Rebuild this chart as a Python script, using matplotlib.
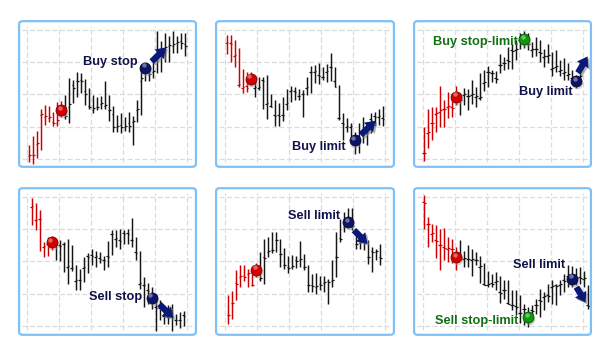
import matplotlib
matplotlib.use("Agg")
import matplotlib.pyplot as plt
import matplotlib.patheffects as pe
from matplotlib.patches import FancyBboxPatch

# ---- data: one OHLC series per panel (price units, gridlines every 10) ----
hi1 = [4.2, 7.0, 8.6, 15.3, 16.7, 16.4, 14.6, 17.7, 18.0, 19.8, 25.0, 24.5, 27.0, 26.7, 24.7, 21.9, 19.8, 19.3, 19.5, 24.1,
       19.8, 16.4, 13.6, 14.1, 13.1, 14.6, 13.3, 18.2, 29.1, 29.0, 28.0, 31.5, 39.8, 36.5, 39.0, 38.0, 39.8, 38.0, 39.0, 39.0]
lo1 = [-0.9, -1.5, 0.1, 2.7, 10.5, 11.5, 10.2, 10.2, 13.0, 12.2, 11.0, 17.2, 19.1, 20.5, 16.7, 15.6, 14.3, 15.1, 15.6, 15.6,
       11.8, 8.4, 8.4, 7.9, 8.6, 8.4, 4.2, 11.5, 13.6, 24.0, 24.0, 25.0, 26.5, 27.0, 30.0, 30.0, 33.0, 33.0, 34.0, 32.0]
op1 = [0.8, 1.0, 4.5, 13.5, 13.0, 12.5, 11.5, 11.0, 15.0, 13.0, 16.0, 23.0, 24.0, 24.5, 21.0, 16.5, 15.0, 16.0, 17.0, 16.5,
       15.0, 14.0, 10.0, 10.5, 10.0, 11.0, 11.5, 15.0, 24.0, 27.0, 26.0, 27.0, 32.0, 33.0, 34.5, 35.0, 35.0, 36.0, 36.5, 35.5]
cl1 = [1.0, 1.2, 5.0, 14.0, 13.2, 13.0, 11.0, 12.0, 15.2, 13.2, 17.0, 22.0, 24.2, 24.0, 20.0, 16.0, 15.8, 16.2, 17.2, 16.8,
       15.2, 10.0, 10.2, 10.0, 10.2, 10.3, 11.7, 15.6, 25.0, 27.2, 26.2, 27.2, 32.2, 33.2, 34.8, 35.2, 35.5, 36.2, 36.0, 35.0]

hi2 = [38.4, 38.6, 37.0, 34.5, 27.9, 27.0, 27.0, 25.7, 25.5, 25.5, 26.0, 20.0, 18.2, 17.2, 19.3, 21.6, 22.6, 22.2, 21.6, 21.3,
       25.3, 28.8, 29.1, 29.6, 28.6, 29.3, 33.0, 28.6, 22.9, 14.1, 12.5, 11.2, 8.4, 11.0, 12.9, 11.5, 14.1, 14.6, 15.6, 16.4]
lo2 = [32.7, 30.2, 28.6, 22.2, 20.5, 20.8, 23.0, 19.3, 21.3, 15.6, 12.2, 16.0, 10.2, 10.2, 11.8, 15.1, 17.7, 18.2, 18.2, 13.0,
       19.8, 20.5, 23.6, 23.2, 24.5, 23.9, 24.1, 22.2, 12.0, 5.8, 8.4, 6.6, 1.5, 1.9, 5.0, 4.2, 7.9, 10.2, 10.5, 10.2]
op2 = [36.0, 36.0, 32.0, 23.0, 22.0, 22.5, 25.0, 22.0, 22.0, 24.5, 17.0, 16.5, 13.6, 13.5, 13.5, 17.0, 21.0, 21.0, 19.5, 20.0,
       22.0, 27.0, 27.0, 26.0, 25.5, 27.0, 28.6, 24.0, 12.5, 11.0, 10.0, 10.0, 6.0, 5.8, 7.9, 8.0, 12.2, 13.3, 13.0, 12.5]
cl2 = [36.2, 35.8, 32.2, 23.2, 22.2, 22.0, 24.8, 22.2, 22.2, 24.0, 17.2, 16.2, 13.4, 13.2, 13.6, 17.2, 21.2, 20.8, 19.6, 20.2,
       22.2, 26.8, 27.2, 25.6, 25.3, 27.2, 28.4, 22.4, 12.6, 10.8, 10.2, 10.2, 6.2, 6.0, 8.1, 8.2, 12.0, 13.1, 13.2, 12.3]

hi3 = [10.0, 15.3, 16.0, 16.0, 22.6, 18.2, 20.8, 20.3, 22.6, 20.3, 21.9, 21.6, 24.5, 22.2, 26.5, 27.6, 28.8, 27.6, 27.4, 32.7,
       31.7, 34.8, 35.8, 36.9, 39.0, 39.8, 39.0, 36.4, 37.9, 37.0, 34.0, 35.8, 33.3, 33.8, 30.7, 31.2, 29.8, 27.6, 26.0, 27.6]
lo3 = [-0.6, 3.2, 5.8, 8.4, 10.0, 9.7, 12.5, 12.9, 16.7, 13.6, 16.7, 15.1, 17.0, 16.2, 18.4, 21.1, 22.4, 23.9, 23.6, 26.7,
       27.6, 28.0, 28.0, 30.7, 34.0, 34.3, 33.8, 31.7, 31.9, 30.2, 28.6, 29.8, 25.7, 27.0, 25.7, 24.5, 24.5, 23.4, 21.9, 23.4]
op3 = [1.7, 8.0, 11.0, 14.0, 14.5, 15.4, 16.2, 16.0, 19.0, 18.4, 19.8, 19.6, 19.8, 19.2, 19.0, 23.6, 27.0, 26.5, 25.0, 29.0,
       29.6, 30.7, 33.8, 33.9, 37.0, 37.2, 35.8, 33.9, 34.2, 33.2, 31.5, 32.0, 28.0, 28.5, 27.2, 26.5, 26.0, 25.0, 24.0, 25.3]
cl3 = [1.9, 8.4, 11.2, 14.2, 15.0, 15.6, 16.4, 15.8, 19.2, 18.2, 20.0, 19.4, 20.0, 19.4, 19.2, 23.8, 26.8, 26.7, 24.8, 29.2,
       29.8, 30.5, 33.6, 34.0, 37.2, 37.0, 35.6, 34.1, 34.0, 33.0, 31.8, 32.3, 28.2, 28.8, 27.5, 26.8, 26.2, 25.2, 24.2, 25.6]

hi4 = [39.8, 38.1, 35.9, 26.0, 27.6, 27.8, 26.0, 26.7, 26.0, 27.0, 25.0, 19.0, 17.7, 21.3, 22.6, 23.9, 23.2, 22.9, 21.6, 26.3,
       29.8, 29.8, 30.2, 29.8, 30.2, 33.6, 27.6, 23.2, 15.1, 13.3, 12.0, 9.9, 7.9, 5.3, 6.3, 6.8, 3.7, 4.2, 4.6]
lo4 = [31.2, 29.6, 23.2, 21.3, 21.6, 23.4, 20.3, 20.1, 16.7, 13.0, 17.0, 11.2, 11.0, 13.6, 16.4, 18.8, 18.4, 19.5, 17.4, 18.4,
       21.9, 24.5, 23.9, 25.5, 25.5, 24.5, 20.3, 11.5, 5.8, 6.8, 5.2, -1.5, 1.7, 0.6, 0.6, -1.5, 0.1, -0.6, -0.2]
op4 = [37.0, 33.0, 33.3, 24.5, 25.5, 25.0, 25.5, 25.0, 25.5, 18.4, 18.0, 14.0, 14.3, 18.0, 21.6, 21.9, 21.4, 20.9, 20.3, 21.6,
       28.4, 27.0, 26.5, 28.8, 28.8, 26.5, 22.9, 13.0, 12.5, 11.0, 8.4, 5.8, 5.6, 2.9, 2.7, 2.9, 1.9, 1.7, 3.2]
cl4 = [37.2, 32.8, 33.1, 24.7, 25.3, 25.2, 25.3, 24.8, 25.3, 18.6, 17.8, 14.2, 14.1, 18.2, 21.4, 21.7, 21.6, 20.7, 20.5, 21.4,
       28.6, 27.2, 26.3, 28.6, 28.6, 26.7, 22.7, 13.2, 12.7, 10.8, 8.6, 5.6, 5.8, 3.1, 2.5, 3.1, 1.7, 1.9, 3.0]

hi5 = [9.4, 10.8, 17.2, 18.8, 19.0, 17.7, 17.4, 19.5, 22.9, 27.0, 27.6, 29.0, 29.0, 27.0, 24.2, 21.6, 21.9, 21.6, 26.3, 22.2,
       19.0, 16.0, 16.4, 15.3, 15.6, 14.6, 20.3, 29.0, 33.3, 35.3, 36.7, 36.7, 28.8, 28.1, 28.6, 26.5, 24.5, 23.9, 25.3]
lo5 = [0.6, 2.2, 8.1, 12.0, 14.0, 12.0, 12.2, 15.0, 13.9, 13.0, 21.3, 22.6, 22.9, 18.4, 17.7, 16.4, 17.7, 18.0, 18.4, 17.2,
       10.5, 10.5, 10.0, 11.0, 10.5, 6.6, 12.0, 15.1, 26.0, 29.1, 30.7, 29.6, 23.9, 23.9, 23.6, 19.1, 16.7, 20.5, 18.8]
op5 = [3.2, 7.0, 13.3, 15.1, 15.3, 16.2, 12.8, 17.2, 14.6, 21.3, 22.9, 23.6, 26.5, 22.4, 18.8, 18.2, 18.4, 20.3, 20.5, 18.4,
       12.5, 12.5, 12.0, 13.0, 13.3, 13.9, 13.9, 21.3, 27.3, 30.7, 31.7, 30.7, 25.5, 25.7, 26.0, 21.3, 23.2, 22.9, 21.3]
cl5 = [3.4, 7.2, 13.1, 15.3, 15.1, 16.4, 12.6, 17.4, 14.8, 21.1, 23.1, 23.4, 26.7, 22.2, 19.0, 18.0, 18.6, 20.1, 20.7, 18.2,
       12.7, 12.3, 12.2, 12.8, 13.5, 13.7, 14.1, 21.5, 27.1, 30.9, 31.5, 30.9, 25.3, 25.9, 25.8, 21.5, 23.0, 23.1, 21.1]

hi6 = [40.5, 33.8, 31.7, 31.2, 30.2, 30.5, 27.6, 27.0, 24.5, 26.7, 23.2, 25.0, 23.9, 22.9, 21.6, 19.5, 17.0, 16.2, 16.7, 15.3,
       14.1, 14.1, 11.2, 11.0, 9.4, 6.8, 5.8, 6.3, 8.4, 11.5, 10.5, 13.0, 14.3, 13.0, 14.1, 16.2, 18.8, 18.5, 18.0, 18.2, 17.0, 12.5]
lo6 = [30.2, 24.5, 26.0, 21.1, 17.4, 20.5, 19.8, 19.5, 17.4, 20.5, 18.2, 18.4, 15.6, 18.8, 13.3, 12.5, 12.0, 12.0, 11.2, 7.0,
       8.4, 6.6, 4.8, 3.2, 0.8, 0.1, -0.4, 2.7, 3.7, 2.7, 4.8, 7.4, 6.8, 6.3, 9.4, 10.5, 12.0, 12.0, 12.5, 13.0, 12.0, 5.3]
op6 = [38.4, 31.7, 28.6, 26.5, 25.0, 24.5, 23.9, 23.9, 21.3, 21.3, 20.8, 20.8, 20.5, 20.5, 18.4, 13.0, 12.8, 13.3, 13.6, 10.5,
       11.0, 7.0, 6.3, 6.0, 3.9, 5.3, 2.7, 4.8, 6.3, 7.9, 8.9, 9.4, 12.0, 12.5, 12.8, 14.1, 15.3, 14.6, 14.6, 15.1, 14.6, 6.3]
cl6 = [38.2, 31.5, 28.8, 26.3, 25.2, 24.3, 24.1, 23.7, 21.5, 21.1, 21.0, 20.6, 20.7, 20.3, 18.6, 12.8, 13.0, 13.1, 13.8, 10.3,
       11.2, 6.8, 6.5, 5.8, 4.1, 5.1, 2.9, 4.6, 6.5, 7.7, 9.1, 9.2, 12.2, 12.3, 13.0, 13.9, 15.5, 14.4, 14.8, 14.9, 14.8, 6.1]

n_red = [9, 7, 9, 6, 8, 9]

# markers: (bar, price, kind)
dots = [
    [(8, 15.1, "red"), (29, 28.3, "navy")],
    [(6, 24.9, "red"), (32, 5.8, "navy")],
    [(8, 19.3, "red"), (25, 37.2, "green"), (38, 24.2, "navy")],
    [(5, 26.0, "red"), (30, 8.7, "navy")],
    [(7, 17.4, "red"), (30, 32.2, "navy")],
    [(8, 21.3, "red"), (26, 2.7, "green"), (37, 14.6, "navy")],
]
labels = [
    [("Buy stop", 27.2, 30.1, "navy")],
    [("Buy limit", 29.75, 3.5, "navy")],
    [("Buy stop-limit", 23.5, 36.2, "green"), ("Buy limit", 37.25, 20.6, "navy")],
    [("Sell stop", 27.5, 8.9, "navy")],
    [("Sell limit", 27.9, 34.1, "navy")],
    [("Sell limit", 35.2, 18.8, "navy"), ("Sell stop-limit", 23.5, 1.4, "green")],
]
arrows = [
    ((30.6, 30.2), (34.2, 34.6)),
    ((33.5, 7.4), (37.2, 11.8)),
    ((38.5, 26.7), (40.9, 31.8)),
    ((31.9, 6.7), (35.4, 2.4)),
    ((31.4, 29.7), (34.8, 25.5)),
    ((38.1, 12.0), (40.4, 7.2)),
]
series = [(hi1, lo1, op1, cl1), (hi2, lo2, op2, cl2), (hi3, lo3, op3, cl3),
          (hi4, lo4, op4, cl4), (hi5, lo5, op5, cl5), (hi6, lo6, op6, cl6)]

# ---- layout in pixels ----
W, H = 612, 355
rects = [(18, 20, 197, 168), (215, 20, 395, 168), (413, 20, 592, 168),
         (18, 187, 197, 336), (215, 187, 395, 336), (413, 187, 592, 336)]
bar0_x = [29.3, 226.7, 424.0, 31.7, 228.3, 424.0]
grid_x0 = [27.3, 224.7, 422.7, 27.3, 224.7, 422.7]
p0_y = [158.7, 158.7, 158.7, 325.7, 325.7, 325.7]
bar_px = 4.0
unit_px = 3.217

dot_col = {"red": ("#d40000", "#7a0000"), "navy": ("#0c1466", "#050830"), "green": ("#0a9a0a", "#045004")}
txt_col = {"navy": "#12124a", "green": "#117011"}

fig = plt.figure(figsize=(W / 100, H / 100), dpi=100)

for k in range(6):
    l, t, r, b = rects[k]
    ax = fig.add_axes([l / W, 1 - b / H, (r - l) / W, (b - t) / H])
    ax.set_xlim((l - bar0_x[k]) / bar_px, (r - bar0_x[k]) / bar_px)
    ax.set_ylim((p0_y[k] - b) / unit_px, (p0_y[k] - t) / unit_px)
    ax.axis("off")

    # dashed grid, inset from the frame
    for j in range(6):
        gx = (grid_x0[k] + 32 * j - bar0_x[k]) / bar_px
        ax.axvline(gx, ymin=0.04, ymax=0.96, color="#dcdcdc", lw=0.9, ls=(0, (4, 2)), zorder=1)
    for j in range(5):
        ax.axhline(10 * j, xmin=0.025, xmax=0.975, color="#dcdcdc", lw=0.9, ls=(0, (4, 2)), zorder=1)

    hi, lo, op, cl = series[k]
    for i in range(len(hi)):
        c = "#cc0000" if i < n_red[k] else "#151515"
        ax.plot([i, i], [lo[i], hi[i]], color=c, lw=1.05, solid_capstyle="butt", zorder=2)
        ax.plot([i - 0.4, i], [op[i], op[i]], color=c, lw=0.9, solid_capstyle="butt", zorder=2)
        ax.plot([i, i + 0.4], [cl[i], cl[i]], color=c, lw=0.9, solid_capstyle="butt", zorder=2)

    for x, y, kind in dots[k]:
        face, edge = dot_col[kind]
        ax.scatter([x + 0.2], [y - 0.6], s=70, color="#9a9a9a", alpha=0.45, lw=0, zorder=3)
        ax.scatter([x], [y], s=62, color=face, edgecolors=edge, linewidths=0.6, zorder=4)
        ax.scatter([x - 0.35], [y + 0.7], s=10, color="white", alpha=0.4, lw=0, zorder=5)

    for text, x, y, kind in labels[k]:
        ax.text(x, y, text, ha="right", va="center", fontsize=9.2, fontweight="bold",
                family="Liberation Sans", color=txt_col[kind], zorder=6)

    (x0, y0), (x1, y1) = arrows[k]
    ax.annotate("", xy=(x1, y1), xytext=(x0, y0), zorder=5,
                arrowprops=dict(arrowstyle="simple,head_length=0.7,head_width=0.95,tail_width=0.45",
                                color="#0a1878", lw=0, shrinkA=0, shrinkB=0,
                                path_effects=[pe.SimplePatchShadow(offset=(1.3, -1.3), shadow_rgbFace="#808080", alpha=0.6),
                                              pe.Normal()]))

    frame = FancyBboxPatch((0.006, 0.008), 0.988, 0.984, boxstyle="round,pad=0,rounding_size=0.02",
                           transform=ax.transAxes, fill=False, edgecolor="#7fc1f6", lw=1.6,
                           clip_on=False, zorder=7)
    ax.add_patch(frame)

fig.savefig("out.png", dpi=100, facecolor="white")
